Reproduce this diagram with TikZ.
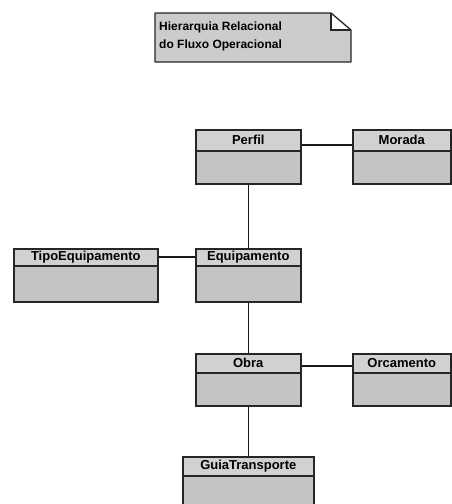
\documentclass[tikz,border=0pt]{standalone}
\usepackage{fontspec}
\setmainfont{Liberation Sans}
\begin{document}
\begin{tikzpicture}[x=1pt,y=-1pt,
  boxline/.style={draw=black!85,line width=1.6pt},
  hdr/.style={boxline,fill=black!18,anchor=north west,inner sep=0pt,
    font=\bfseries\fontsize{13}{14}\selectfont},
  bdy/.style={boxline,fill=black!23,anchor=north west,inner sep=0pt},
  notetext/.style={anchor=base west,inner sep=0pt,font=\bfseries\fontsize{12}{14}\selectfont},
  link/.style={draw=black!90,line width=1.4pt}]
\useasboundingbox (0,0) rectangle (451,504);

% note in the top centre
\fill[black!20] (155,13) -- (331,13) -- (331,30) -- (351,30) -- (351,62) -- (155,62) -- cycle;
\draw[boxline,line width=1.3pt,line join=round] (155,13) -- (331,13) -- (351,30) -- (351,62) -- (155,62) -- cycle;
\draw[boxline,line width=1.3pt] (331,13) -- (331,30) -- (351,30);
\node[notetext] (noteA) at (159,30) {Hierarquia Relacional};
\node[notetext] (noteB) at (159,48) {do Fluxo Operacional};

% class boxes: header with the name, empty body below
\node[hdr,minimum width=105,minimum height=21] (perfil) at (195,129) {Perfil};
\node[bdy,minimum width=105,minimum height=33] (perfilB) at (195,150) {};

\node[hdr,minimum width=98,minimum height=21] (morada) at (352,129) {Morada};
\node[bdy,minimum width=98,minimum height=33] (moradaB) at (352,150) {};

\node[hdr,minimum width=144,minimum height=17] (tipo) at (13,248) {TipoEquipamento};
\node[bdy,minimum width=144,minimum height=36] (tipoB) at (13,265) {};

\node[hdr,minimum width=105,minimum height=17] (equip) at (195,248) {Equipamento};
\node[bdy,minimum width=105,minimum height=36] (equipB) at (195,265) {};

\node[hdr,minimum width=105,minimum height=19] (obra) at (195,353) {Obra};
\node[bdy,minimum width=105,minimum height=33] (obraB) at (195,372) {};

\node[hdr,minimum width=98,minimum height=19] (orc) at (352,353) {Orcamento};
\node[bdy,minimum width=98,minimum height=33] (orcB) at (352,372) {};

\node[hdr,minimum width=131,minimum height=19] (guia) at (182,456) {GuiaTransporte};
\node[bdy,minimum width=131,minimum height=40] (guiaB) at (182,475) {};

% connectors
\draw[link] ([yshift=5]perfilB.north east) -- ([yshift=5]moradaB.north west);
\draw[link] (perfilB.south) -- (equip.north);
\draw[link] ([yshift=8]tipoB.north east) -- ([yshift=8]equipB.north west);
\draw[link] (equipB.south) -- (obra.north);
\draw[link] ([yshift=6]obraB.north east) -- ([yshift=6]orcB.north west);
\draw[link] (obraB.south) -- (obraB.south |- guia.north);
\end{tikzpicture}
\end{document}
